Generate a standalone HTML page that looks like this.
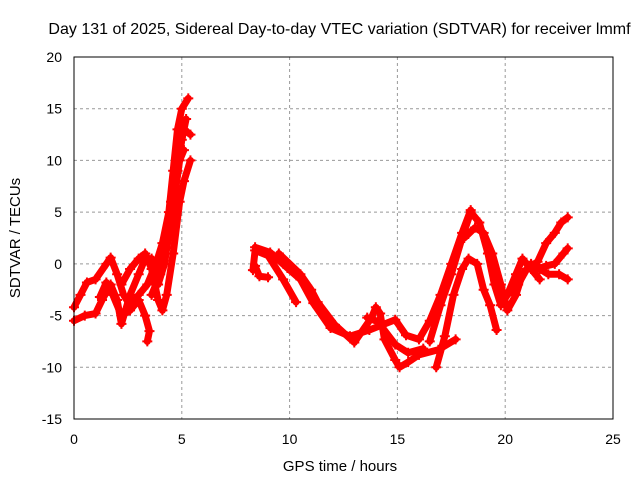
<!DOCTYPE html>
<html><head><meta charset="utf-8"><style>
body{margin:0;background:#fff}
svg{display:block;font-family:"Liberation Sans",sans-serif}
</style></head><body>
<svg id="chart" width="640" height="480" viewBox="0 0 640 480">
<rect width="640" height="480" fill="#fff"/>
<text x="339.5" y="34" font-size="16" text-anchor="middle">Day 131 of 2025, Sidereal Day-to-day VTEC variation (SDTVAR) for receiver lmmf</text>
<text x="340" y="471" font-size="15" text-anchor="middle">GPS time / hours</text>
<text transform="translate(20,238) rotate(-90)" font-size="15" text-anchor="middle">SDTVAR / TECUs</text>
<g id="grid"></g><g id="ticks"></g><g id="series"></g>
<rect x="74" y="57" width="539" height="362" fill="none" stroke="#000" stroke-width="1"/>
</svg>
<script>
const xTicks=[0,5,10,15,20,25];
const yTicks=[-15,-10,-5,0,5,10,15,20];
const track1=[[0,-4.2],[0.3,-3],[0.6,-1.8],[1.0,-1.5],[1.5,0],[1.7,0.6],[2.0,-1],[2.3,-3],[2.6,-4],[3.0,-3],[3.4,-2],[3.8,0],[4.1,2],[4.4,5],[4.6,9],[4.8,13],[5.0,15],[5.3,16]];
const track2=[[0,-5.5],[0.5,-5],[1.0,-4.8],[1.3,-3.5],[1.7,-2],[2.0,-3.5],[2.2,-5.8],[2.6,-3],[3.0,-1],[3.3,0.5],[3.6,0.5],[3.9,-1],[4.2,2],[4.5,6],[4.8,10],[5.1,13],[5.4,12.5]];
const track3=[[1.2,-3.2],[1.5,-1.8],[1.8,-3],[2.2,-5],[2.6,-4.5],[3.0,-3.5],[3.3,-5],[3.5,-6.5],[3.4,-7.5]];
const track4=[[2.2,-2],[2.6,-0.5],[3.0,0.5],[3.3,1],[3.6,-0.5],[3.9,-3.5],[4.1,-4.5],[4.3,-3],[4.6,1],[4.9,6],[5.1,8],[5.4,10]];
const track4b=[[3.9,-2],[4.2,0],[4.4,3],[4.6,6],[4.8,9],[5.0,12],[5.2,14]];
const track4c=[[3.6,-3],[4.0,-1],[4.3,1.5],[4.5,4],[4.7,7],[4.9,10],[5.1,11]];
const track5=[[8.4,1.6],[9.1,1.1],[9.9,-0.4],[10.5,-1.5],[11.1,-3.8],[11.9,-6.2],[12.8,-7],[13.7,-6.4],[14.9,-5.4],[15.4,-6.9],[16,-7.3],[16.5,-5.5],[17,-3],[17.5,0],[18,3],[18.4,5.2]];
const track6=[[8.3,-0.6],[8.4,1.3],[9.0,0.8],[9.7,-1.5],[10.3,-3.7]];
const track6b=[[8.4,-0.2],[8.6,-1.2],[9.0,-1.3]];
const track7=[[9.5,1],[10.5,-1],[11,-2.5],[11.3,-3.7],[12.1,-5.9],[13,-7.6],[13.8,-5.2],[14,-4.2],[14.2,-4.8],[14.4,-7.3],[14.9,-9.3],[15.1,-10],[15.5,-9.5],[16,-8.8],[16.9,-8.3],[17.7,-7.3]];
const track8=[[13.6,-5.2],[14.1,-5.6],[14.9,-7.8],[15.5,-8.6],[16.2,-8.2]];
const track9=[[16.5,-7.5],[17,-4],[17.5,-1],[18,2.5],[18.4,5],[18.8,4],[19.2,1],[19.5,-2],[19.8,-4],[20.1,-3],[20.5,-1],[20.8,0.5],[21.2,-0.5],[21.6,-1.5]];
const track10=[[16.8,-10],[17.2,-7],[17.6,-3],[18.0,-0.5],[18.3,0.5],[18.7,0],[19.0,-2.5],[19.3,-4],[19.6,-6.4]];
const track11=[[18.1,2.5],[18.6,3.5],[19.0,3],[19.4,1],[19.8,-2],[20.1,-4.5],[20.5,-3],[20.8,-1],[21.2,0],[21.6,-0.5],[22.0,-1],[22.5,-1],[22.9,-1.5]];
const track12=[[20.1,-3],[20.6,-2],[21.0,-0.5],[21.5,0.2],[21.9,2],[22.3,3],[22.6,4],[22.9,4.5]];
const track13=[[21.5,-0.5],[21.9,-0.2],[22.3,0],[22.7,1],[22.9,1.5]];
const tracks=[track1,track2,track3,track4,track4b,track4c,track5,track6,track6b,track7,track8,track9,track10,track11,track12,track13];
const NS='http://www.w3.org/2000/svg';
const X=t=>74+(t-0)*539/25;
const Y=v=>419-(v+15)*362/35;
const grid=document.getElementById('grid'),ticks=document.getElementById('ticks'),ser=document.getElementById('series');
function mk(tag,attrs,parent){const e=document.createElementNS(NS,tag);for(const k in attrs)e.setAttribute(k,attrs[k]);parent.appendChild(e);return e;}
xTicks.forEach(t=>{
  if(t>0&&t<25){const g=mk('line',{x1:X(t),x2:X(t),y1:57,y2:419,stroke:'#999','stroke-dasharray':'3,3'},grid);
  
  }
  const l=mk('text',{x:X(t),y:444,'font-size':14,'text-anchor':'middle'},ticks);l.textContent=t;
  
  
});
yTicks.forEach(v=>{
  if(v>-15&&v<20){const g=mk('line',{x1:74,x2:613,y1:Y(v),y2:Y(v),stroke:'#999','stroke-dasharray':'3,3'},grid);
  
  }
  const l=mk('text',{x:62,y:Y(v)+5,'font-size':14,'text-anchor':'end'},ticks);l.textContent=v;
  
  
});
tracks.forEach(tr=>{
  const p=mk('polyline',{points:tr.map(d=>X(d[0])+','+Y(d[1])).join(' '),fill:'none',stroke:'#f00','stroke-width':7,'stroke-linejoin':'round','stroke-linecap':'round'},ser);
  
  
  tr.forEach(d=>{
    const m=mk('path',{d:`M${X(d[0])-5},${Y(d[1])}h10M${X(d[0])},${Y(d[1])-5}v10`,stroke:'#f00','stroke-width':2},ser);
    
    
  });
});
</script>
</body></html>
